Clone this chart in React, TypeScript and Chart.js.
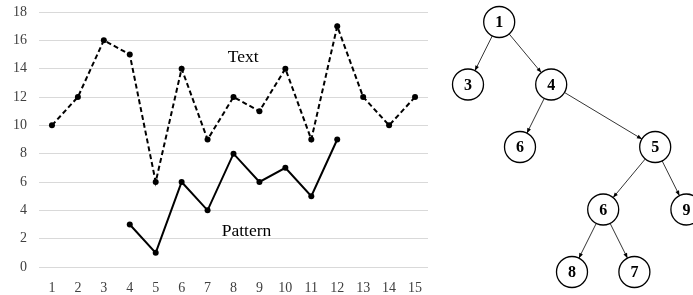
import React, { useEffect, useRef } from "react";
import { Chart, registerables } from "chart.js";

Chart.register(...registerables);

// ---- line chart data ----
const categories = ["1", "2", "3", "4", "5", "6", "7", "8", "9", "10", "11", "12", "13", "14", "15"];
const textSeries = [10, 12, 16, 15, 6, 14, 9, 12, 11, 14, 9, 17, 12, 10, 12];
const patternSeries = [null, null, null, 3, 1, 6, 4, 8, 6, 7, 5, 9, null, null, null];
const yMin = 0;
const yMax = 18;
const yStep = 2;
const seriesNames = ["Text", "Pattern"];
// annotation anchor (category index, value) for each series name
const nameIndex = [7.37, 7.5];
const nameValue = [14.5, 2.2];

// ---- tree data ----
const nodeLabels = ["1", "3", "4", "6", "5", "6", "9", "8", "7"];
const nodeColumns = [3, 0, 8, 5, 18, 13, 21, 10, 16];
const nodeLevels = [0, 1, 1, 2, 2, 3, 3, 4, 4];
const edgeFrom = [0, 0, 2, 2, 4, 4, 5, 5];
const edgeTo = [1, 2, 3, 4, 5, 6, 7, 8];

const SERIF = "'Liberation Serif', 'Times New Roman', serif";

const seriesNamePlugin = {
  id: "seriesNames",
  afterDatasetsDraw(chart: any) {
    const { ctx, scales } = chart;
    ctx.save();
    ctx.fillStyle = "#000";
    ctx.font = `17.5px ${SERIF}`;
    ctx.textAlign = "center";
    ctx.textBaseline = "alphabetic";
    seriesNames.forEach((n, i) => {
      const x = scales.x.getPixelForValue(nameIndex[i]);
      const y = scales.y.getPixelForValue(nameValue[i]);
      ctx.fillText(n, x, y);
    });
    ctx.restore();
  },
};

const treePlugin = {
  id: "treeEdges",
  beforeDatasetsDraw(chart: any) {
    const { ctx, scales } = chart;
    const r = 15.5;
    ctx.save();
    ctx.strokeStyle = "#000";
    ctx.fillStyle = "#000";
    ctx.lineWidth = 0.8;
    edgeFrom.forEach((f, i) => {
      const t = edgeTo[i];
      const x1 = scales.x.getPixelForValue(nodeColumns[f]);
      const y1 = scales.y.getPixelForValue(nodeLevels[f]);
      const x2 = scales.x.getPixelForValue(nodeColumns[t]);
      const y2 = scales.y.getPixelForValue(nodeLevels[t]);
      const dx = x2 - x1;
      const dy = y2 - y1;
      const len = Math.hypot(dx, dy);
      const ux = dx / len;
      const uy = dy / len;
      const sx = x1 + ux * r;
      const sy = y1 + uy * r;
      const ex = x2 - ux * r;
      const ey = y2 - uy * r;
      ctx.beginPath();
      ctx.moveTo(sx, sy);
      ctx.lineTo(ex, ey);
      ctx.stroke();
      const al = 5;
      const aw = 2;
      ctx.beginPath();
      ctx.moveTo(ex, ey);
      ctx.lineTo(ex - ux * al - uy * aw, ey - uy * al + ux * aw);
      ctx.lineTo(ex - ux * al + uy * aw, ey - uy * al - ux * aw);
      ctx.closePath();
      ctx.fill();
    });
    ctx.restore();
  },
  afterDatasetsDraw(chart: any) {
    const { ctx, scales } = chart;
    ctx.save();
    ctx.fillStyle = "#000";
    ctx.font = `bold 16px ${SERIF}`;
    ctx.textAlign = "center";
    ctx.textBaseline = "middle";
    nodeLabels.forEach((l, i) => {
      const x = scales.x.getPixelForValue(nodeColumns[i]);
      const y = scales.y.getPixelForValue(nodeLevels[i]);
      ctx.fillText(l, x, y + 1);
    });
    ctx.restore();
  },
};

export default function App() {
  const lineRef = useRef<HTMLCanvasElement>(null);
  const treeRef = useRef<HTMLCanvasElement>(null);

  useEffect(() => {
    document.body.style.margin = "0";
    const lineChart = new Chart(lineRef.current!, {
      type: "line",
      data: {
        labels: categories,
        datasets: [
          {
            label: seriesNames[0],
            data: textSeries,
            borderColor: "#000",
            backgroundColor: "#000",
            borderWidth: 2,
            borderDash: [5, 3],
            pointRadius: 3,
            pointBorderWidth: 0,
            pointBackgroundColor: "#000",
            tension: 0,
          },
          {
            label: seriesNames[1],
            data: patternSeries,
            borderColor: "#000",
            backgroundColor: "#000",
            borderWidth: 2,
            pointRadius: 3,
            pointBorderWidth: 0,
            pointBackgroundColor: "#000",
            tension: 0,
            spanGaps: false,
          },
        ],
      },
      options: {
        animation: false,
        responsive: false,
        devicePixelRatio: 1,
        layout: { autoPadding: false, padding: { left: 0, right: 12, top: 12, bottom: 0 } },
        plugins: { legend: { display: false }, tooltip: { enabled: false } },
        scales: {
          x: {
            type: "category",
            offset: true,
            grid: { display: false },
            border: { display: false },
            ticks: { color: "#404040", font: { family: SERIF, size: 14 }, padding: 5, maxRotation: 0, autoSkip: false },
            afterFit: (s: any) => {
              s.height = 28;
            },
          },
          y: {
            min: yMin,
            max: yMax,
            grid: { color: "#d9d9d9", lineWidth: 1, drawTicks: false },
            border: { display: false },
            ticks: { stepSize: yStep, color: "#404040", font: { family: SERIF, size: 14 }, padding: 12 },
            afterFit: (s: any) => {
              s.width = 39;
              s.paddingTop = 0;
              s.paddingBottom = 0;
            },
          },
        },
      },
      plugins: [seriesNamePlugin],
    });

    const treeChart = new Chart(treeRef.current!, {
      type: "scatter",
      data: {
        datasets: [
          {
            data: nodeColumns.map((c, i) => ({ x: c, y: nodeLevels[i] })),
            pointRadius: 15.5,
            pointBorderWidth: 1.3,
            pointBorderColor: "#000",
            pointBackgroundColor: "#fff",
            clip: false,
          } as any,
        ],
      },
      options: {
        animation: false,
        responsive: false,
        devicePixelRatio: 1,
        layout: { autoPadding: false, padding: 0 },
        plugins: { legend: { display: false }, tooltip: { enabled: false } },
        scales: {
          x: { type: "linear", min: -2.692, max: 21.635, display: false },
          y: { type: "linear", min: -0.352, max: 4.368, reverse: true, display: false },
        },
      },
      plugins: [treePlugin],
    });

    return () => {
      lineChart.destroy();
      treeChart.destroy();
    };
  }, []);

  return (
    <div style={{ position: "relative", width: 693, height: 295, background: "#fff" }}>
      <canvas ref={lineRef} width={440} height={295} style={{ position: "absolute", left: 0, top: 0 }} />
      <canvas ref={treeRef} width={253} height={295} style={{ position: "absolute", left: 440, top: 0 }} />
    </div>
  );
}
